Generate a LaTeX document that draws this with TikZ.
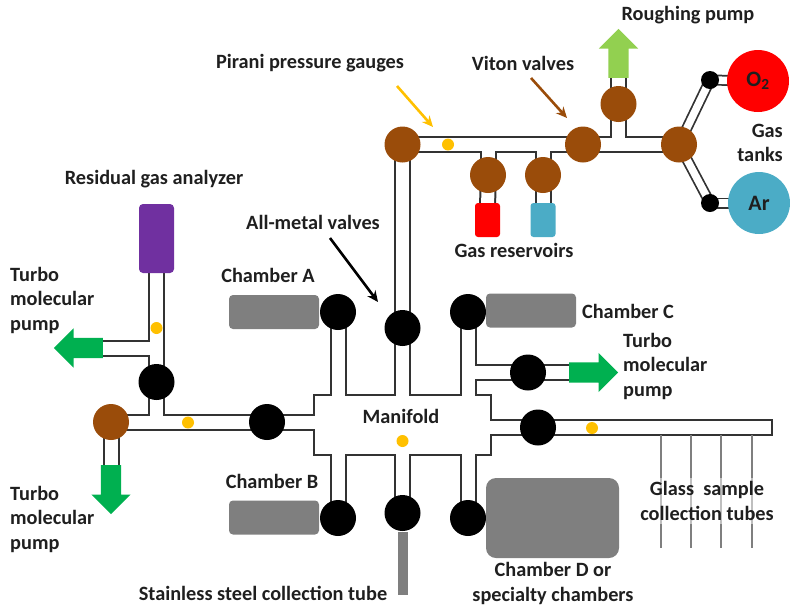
\documentclass[tikz,border=0pt]{standalone}
\usepackage{fontspec}
\setmainfont{Carlito}
\usetikzlibrary{arrows.meta,backgrounds,shapes.arrows}
\definecolor{pipeDark}{HTML}{333333}
\definecolor{valveBrown}{HTML}{9A4C0A}
\definecolor{dotYellow}{HTML}{FFC000}
\definecolor{pumpGreen}{HTML}{00B050}
\definecolor{roughGreen}{HTML}{92D050}
\definecolor{gasRed}{HTML}{FF0000}
\definecolor{gasBlue}{HTML}{4BACC6}
\definecolor{rgaPurple}{HTML}{7030A0}
\definecolor{chamberGray}{HTML}{7F7F7F}
\definecolor{textDark}{HTML}{1F1F1F}
\tikzstyle{valve} = [circle, fill=black, minimum size=36pt, inner sep=0]
\tikzstyle{viton} = [valve, fill=valveBrown]
\tikzstyle{smallValve} = [valve, minimum size=18pt]
\tikzstyle{gauge} = [circle, fill=dotYellow, minimum size=12pt, inner sep=0]
\tikzstyle{chamber} = [rectangle, fill=chamberGray, rounded corners=4pt, minimum width=90pt, minimum height=34pt, inner sep=0]
\tikzstyle{cell} = [rectangle, rounded corners=3pt, minimum width=25pt, minimum height=34pt, inner sep=0]
\tikzstyle{tank} = [circle, minimum size=62pt, inner sep=0, text=textDark, font=\bfseries\fontsize{22}{22}\selectfont]
\tikzstyle{pump} = [single arrow, fill=pumpGreen, minimum height=49pt, inner xsep=0, inner ysep=10pt, single arrow head extend=9.5pt, anchor=tail]
\tikzstyle{caption} = [inner sep=0, text=textDark, font=\bfseries\fontsize{20.3}{24.5}\selectfont]
\tikzstyle{pointer} = [line width=2.6pt, -{Stealth[length=11pt,width=10pt]}]
\tikzstyle{pipeOuter} = [pipeDark, line width=17pt]
\tikzstyle{pipeInner} = [white, line width=13pt]
\tikzstyle{feedOuter} = [pipeDark, line width=11pt]
\tikzstyle{feedInner} = [white, line width=7.5pt]
\newcommand{\pipeList}{piraniValve/supplyValve, supplyValve/tankValve, gasValveA/gasTeeA, gasValveB/gasTeeB, gasValveA/gasCellA, gasValveB/gasCellB, roughValve/roughTee, roughValve/roughArrow, piraniValve/metalValve, metalValve/manifoldCentre, rgaCell/rgaValve, rgaTee/leftArrow, rgaValve/rgaFoot, leftValve/downArrow, leftValve/lineValve, lineValve/lineEnd, chamberValveA/teeA, chamberValveB/teeB, chamberValveC/teeC, chamberValveD/teeD, bottomValve/manifoldCentre, pumpTee/pumpValve, pumpValve/rightArrow, tubeStart/tubeCap}
\newcommand{\feedList}{tankValve/oxygenValve, tankValve/argonValve, oxygenValve/oxygenTank, argonValve/argonTank}

\begin{document}
\begin{tikzpicture}[x=1pt, y=-1pt]
    \useasboundingbox (0,0) rectangle (790,606);

    % Valves
    \coordinate (manifoldCentre) at (402.5,425);
    \node (piraniValve) [viton] at (402.5,144.5) {};
    \node (supplyValve) [viton] at (583,144.5) {};
    \node (tankValve) [viton] at (679,144.5) {};
    \node (roughValve) [viton] at (618.5,104) {};
    \node (gasValveA) [viton] at (488,175) {};
    \node (gasValveB) [viton] at (543,175) {};
    \node (oxygenValve) [smallValve] at (710,80) {};
    \node (argonValve) [smallValve] at (710,203) {};
    \node (leftValve) [viton] at (111,422) {};
    \node (rgaValve) [valve] at (156.5,382) {};
    \node (lineValve) [valve] at (267,422) {};
    \node (chamberValveA) [valve] at (338,312) {};
    \node (chamberValveB) [valve] at (338,518) {};
    \node (chamberValveC) [valve] at (468,312) {};
    \node (chamberValveD) [valve] at (468,518) {};
    \node (metalValve) [valve] at (402.5,328) {};
    \node (bottomValve) [valve] at (402.5,513) {};
    \node (pumpValve) [valve] at (528,372.5) {};
    \node (sampleValve) [valve] at (538,427.5) {};

    % Vessels
    \node (oxygenTank) [tank, fill=gasRed] at (758,81) {O\textsubscript{2}};
    \node (argonTank) [tank, fill=gasBlue] at (759,203) {Ar};
    \node (gasCellA) [cell, fill=gasRed] at (487.5,220) {};
    \node (gasCellB) [cell, fill=gasBlue] at (543,220) {};
    \node (rgaCell) [cell, fill=rgaPurple, rounded corners=4pt, minimum width=35pt, minimum height=69pt] at (156.5,238.5) {};
    \node (chamberA) [chamber] at (274,312) {};
    \node (chamberB) [chamber] at (274,517.5) {};
    \node (chamberC) [chamber] at (531,310.5) {};
    \node (chamberD) [chamber, rounded corners=10pt, minimum width=133pt, minimum height=80pt] at (552.5,518) {};
    \node (steelTube) [rectangle, fill=chamberGray, minimum width=10pt, minimum height=63pt, inner sep=0] at (403,563.5) {};
    \node (tubeCap) [rectangle, fill=pipeDark, minimum width=2pt, minimum height=17pt, inner sep=0] at (772,427.5) {};

    % Pumps
    \node (roughArrow) [pump, fill=roughGreen, rotate=90] at (618.5,78) {};
    \node (leftArrow) [pump, rotate=180] at (103,348) {};
    \node (downArrow) [pump, rotate=-90] at (111,465) {};
    \node (rightArrow) [pump] at (569,372.5) {};

    % Junctions
    \coordinate (gasTeeA) at (gasValveA |- piraniValve);
    \coordinate (gasTeeB) at (gasValveB |- piraniValve);
    \coordinate (roughTee) at (roughValve |- piraniValve);
    \coordinate (rgaTee) at (rgaValve |- leftArrow);
    \coordinate (rgaFoot) at (rgaValve |- leftValve);
    \coordinate (lineEnd) at (manifoldCentre |- lineValve);
    \coordinate (teeA) at (chamberValveA |- manifoldCentre);
    \coordinate (teeB) at (chamberValveB |- manifoldCentre);
    \coordinate (teeC) at (chamberValveC |- manifoldCentre);
    \coordinate (teeD) at (chamberValveD |- manifoldCentre);
    \coordinate (pumpTee) at (chamberValveC |- pumpValve);
    \coordinate (tubeStart) at (manifoldCentre |- tubeCap);

    % Pipes
    \begin{scope}[on background layer]
        \foreach \a/\b in \pipeList { \draw[pipeOuter] (\a.center) -- (\b.center); }
        \foreach \a/\b in \feedList { \draw[feedOuter] (\a.center) -- (\b.center); }
        \node (manifold) [rectangle, draw=pipeDark, fill=white, line width=2pt, minimum width=177pt, minimum height=60pt, inner sep=0] at (manifoldCentre) {};
        \foreach \a/\b in \pipeList { \draw[pipeInner] (\a.center) -- (\b.center); }
        \foreach \a/\b in \feedList { \draw[feedInner] (\a.center) -- (\b.center); }
    \end{scope}

    % Sample tubes
    \foreach \x in {661,691,721,752} {
        \coordinate (tubeTop\x) at (\x,435);
        \coordinate (tubeEnd\x) at (\x,548);
        \draw[chamberGray, line width=2.6pt] (tubeTop\x) -- (tubeEnd\x);
    }

    % Gauges
    \node (gaugeTop) [gauge] at (448,144.5) {};
    \node (gaugeRga) [gauge] at (156.5,328) {};
    \node (gaugeLine) [gauge] at (188,422.5) {};
    \node (gaugeManifold) [gauge] at (402.5,441) {};
    \node (gaugeTube) [gauge] at (592,428) {};

    % Labels
    \node (roughText) [caption] at (688,15) {Roughing pump};
    \node (piraniText) [caption] at (310,63) {Pirani pressure gauges};
    \node (vitonText) [caption] at (523,63) {Viton valves};
    \node (gasText) [caption] at (514,250) {Gas reservoirs};
    \node (tanksText) [caption, align=right, anchor=east] at (783,143) {Gas\\tanks};
    \node (rgaText) [caption] at (154,179) {Residual gas analyzer};
    \node (metalText) [caption] at (313,222) {All-metal valves};
    \node (chamberTextA) [caption] at (268,275) {Chamber A};
    \node (chamberTextB) [caption] at (272,481) {Chamber B};
    \node (chamberTextC) [caption] at (628,311) {Chamber C};
    \node (chamberTextD) [caption, align=center] at (553,583.5) {Chamber D or\\specialty chambers};
    \node (manifoldText) [caption] at (401,416) {Manifold};
    \node (steelText) [caption] at (263,593.5) {Stainless steel collection tube};
    \node (pumpTextA) [caption, align=left, anchor=west] at (10,300) {Turbo\\molecular\\pump};
    \node (pumpTextB) [caption, align=left, anchor=west] at (10,519) {Turbo\\molecular\\pump};
    \node (pumpTextC) [caption, align=left, anchor=west] at (623,366) {Turbo\\molecular\\pump};
    \node (sampleText) [caption, align=center, fill=white, fill opacity=0.5, text opacity=1, inner xsep=2pt, inner ysep=4pt] at (707,501) {Glass\ \ sample\\collection tubes};

    % Arrows
    \coordinate (piraniFrom) at (397,86);
    \coordinate (piraniTo) at (433,127);
    \coordinate (vitonFrom) at (531,78);
    \coordinate (vitonTo) at (567,118);
    \coordinate (metalFrom) at (330,238);
    \coordinate (metalTo) at (378,302);
    \draw[pointer, dotYellow] (piraniFrom) -- (piraniTo);
    \draw[pointer, valveBrown] (vitonFrom) -- (vitonTo);
    \draw[pointer, black] (metalFrom) -- (metalTo);
\end{tikzpicture}
\end{document}
